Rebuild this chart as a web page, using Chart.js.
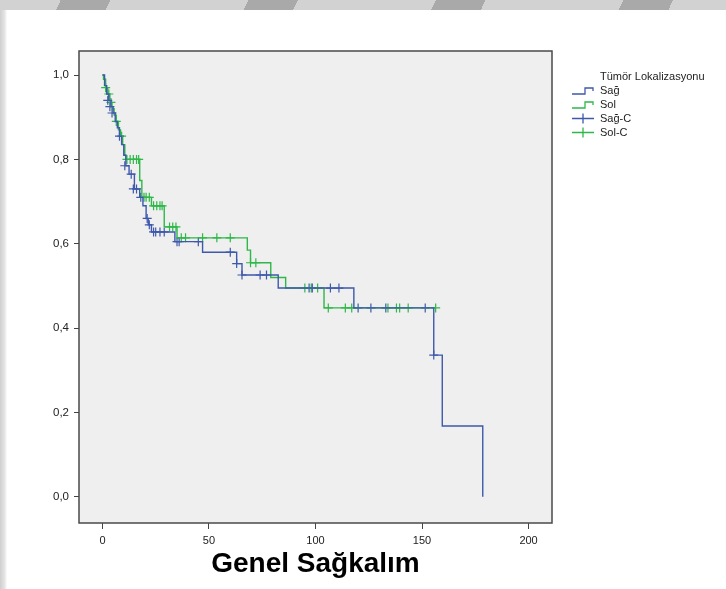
<!DOCTYPE html>
<html>
<head>
<meta charset="utf-8">
<script src="https://cdn.jsdelivr.net/npm/chart.js@4"></script>
<style>
  html, body { margin: 0; padding: 0; background: #fff; }
  body { width: 726px; height: 589px; position: relative; overflow: hidden; font-family: Arial, "Liberation Sans", sans-serif; }
  #topband {
    position: absolute; left: 0; top: 0; width: 726px; height: 10px;
    background: repeating-linear-gradient(115deg, #d2d2d2 0 55px, #a9a9a9 55px 100px, #d2d2d2 100px 170px);
  }
  #leftband {
    position: absolute; left: 0; top: 10px; width: 7px; height: 579px;
    background: linear-gradient(90deg, #cfcfcf, #e6e6e6 70%, #fff);
  }
  #wrap { position: absolute; left: 0; top: 0; width: 726px; height: 589px; }
  #legend { position: absolute; left: 556px; top: 69px; font-size: 11px; color: #222; line-height: 14px; }
  #legend .title { padding-left: 44px; }
  #legend .row { display: flex; align-items: center; height: 14px; }
  #legend svg { width: 40px; height: 13px; margin-right: 4px; }
</style>
</head>
<body>
<div id="topband"></div>
<div id="leftband"></div>
<div id="wrap"><canvas id="km" width="726" height="589"></canvas></div>
<div id="legend">
  <div class="title">Tümör Lokalizasyonu</div>
  <div class="row"><svg viewBox="0 0 40 13"><path d="M16 10 H29 V4 H37 V7" fill="none" stroke="#3e58ac" stroke-width="1.3"/></svg>Sağ</div>
  <div class="row"><svg viewBox="0 0 40 13"><path d="M16 10 H29 V4 H37 V7" fill="none" stroke="#2eb848" stroke-width="1.3"/></svg>Sol</div>
  <div class="row"><svg viewBox="0 0 40 13"><path d="M16 6.5 H38 M27 1.5 V11.5" fill="none" stroke="#3e58ac" stroke-width="1.3"/></svg>Sağ-C</div>
  <div class="row"><svg viewBox="0 0 40 13"><path d="M16 6.5 H38 M27 1.5 V11.5" fill="none" stroke="#2eb848" stroke-width="1.3"/></svg>Sol-C</div>
</div>
<script>
// Sağ: step curve (time, survival)
const sagTime = [0, 1, 2, 3, 4, 5, 6, 7, 8, 9, 10, 11, 12.5, 15, 17.5, 19, 20.5, 21.5, 23, 34, 47, 63, 65.5, 82.5, 118, 155.5, 159.5, 178.5];
const sagSurv = [1.0, 0.975, 0.955, 0.94, 0.925, 0.91, 0.89, 0.875, 0.855, 0.835, 0.81, 0.785, 0.765, 0.73, 0.71, 0.69, 0.66, 0.645, 0.628, 0.605, 0.58, 0.553, 0.526, 0.495, 0.448, 0.336, 0.168, 0.0];
// Sağ: censored
const sagCensTime = [2.5, 3.5, 4.5, 8, 10.5, 13.5, 14.5, 16, 18, 21, 22, 24, 25, 27, 29, 35, 36, 45, 60, 63, 65.5, 74, 77, 97, 98.5, 107, 111, 120, 126, 133, 151.5, 155.5];
const sagCensSurv = [0.94, 0.925, 0.91, 0.855, 0.785, 0.765, 0.73, 0.73, 0.71, 0.66, 0.645, 0.628, 0.628, 0.628, 0.628, 0.605, 0.605, 0.605, 0.58, 0.553, 0.526, 0.526, 0.526, 0.495, 0.495, 0.495, 0.495, 0.448, 0.448, 0.448, 0.448, 0.336];

// Sol: step curve
const solTime = [0, 0.5, 1.5, 2.5, 3.5, 4.5, 5.5, 6.5, 7.5, 8.5, 9.5, 10.5, 11, 17.5, 18.5, 23, 29, 35, 68, 69.5, 79, 86, 104, 156.4];
const solSurv = [1.0, 0.99, 0.97, 0.955, 0.935, 0.92, 0.905, 0.89, 0.87, 0.855, 0.835, 0.81, 0.8, 0.75, 0.71, 0.69, 0.64, 0.614, 0.585, 0.555, 0.52, 0.495, 0.448, 0.448];
// Sol: censored
const solCensTime = [1.5, 3, 4, 6.5, 9, 11.5, 13, 14.5, 16, 17, 19.5, 20.5, 22, 24, 25.5, 27, 28, 31.5, 33, 34.5, 37, 39, 47, 53.7, 60, 69.5, 72, 95, 98, 101, 106, 114, 117, 134, 138, 139.5, 143.5, 156.4];
const solCensSurv = [0.97, 0.955, 0.935, 0.89, 0.855, 0.8, 0.8, 0.8, 0.8, 0.8, 0.71, 0.71, 0.71, 0.69, 0.69, 0.69, 0.69, 0.64, 0.64, 0.64, 0.614, 0.614, 0.614, 0.614, 0.614, 0.555, 0.555, 0.495, 0.495, 0.495, 0.448, 0.448, 0.448, 0.448, 0.448, 0.448, 0.448, 0.448];

const xTicks = [0, 50, 100, 150, 200];
const yTicks = [0, 0.2, 0.4, 0.6, 0.8, 1.0];

const blue = "#3e58ac";
const green = "#2eb848";

const toPts = (xs, ys) => xs.map((x, i) => ({ x: x, y: ys[i] }));

// grey plot area + dark frame
const frame = {
  id: "frame",
  beforeDraw(chart) {
    const { ctx, chartArea: a } = chart;
    ctx.save();
    ctx.fillStyle = "#efefef";
    ctx.fillRect(a.left, a.top, a.right - a.left, a.bottom - a.top);
    ctx.restore();
  },
  afterDraw(chart) {
    const { ctx, chartArea: a } = chart;
    ctx.save();
    ctx.strokeStyle = "#4a4a4a";
    ctx.lineWidth = 1.5;
    ctx.strokeRect(a.left, a.top, a.right - a.left, a.bottom - a.top);
    ctx.restore();
  }
};

new Chart(document.getElementById("km"), {
  type: "line",
  data: {
    datasets: [
      { label: "Sağ", data: toPts(sagTime, sagSurv), stepped: "before", borderColor: blue, borderWidth: 1.4, pointRadius: 0, fill: false },
      { label: "Sol", data: toPts(solTime, solSurv), stepped: "before", borderColor: green, borderWidth: 1.4, pointRadius: 0, fill: false },
      { label: "Sağ-C", data: toPts(sagCensTime, sagCensSurv), showLine: false, pointStyle: "cross", pointRadius: 4.5, borderColor: blue, borderWidth: 1.2 },
      { label: "Sol-C", data: toPts(solCensTime, solCensSurv), showLine: false, pointStyle: "cross", pointRadius: 4.5, borderColor: green, borderWidth: 1.2 }
    ]
  },
  options: {
    responsive: false,
    animation: false,
    layout: { padding: { left: 0, top: 51, right: 174, bottom: 0 } },
    plugins: { legend: { display: false }, tooltip: { enabled: false } },
    scales: {
      x: {
        type: "linear",
        min: -11,
        max: 211,
        afterBuildTicks: (axis) => { axis.ticks = xTicks.map((v) => ({ value: v })); },
        afterFit: (axis) => { axis.height = 66; },
        grid: { drawOnChartArea: false, drawTicks: true, tickLength: 6, color: "#444" },
        border: { display: false },
        ticks: { color: "#222", font: { family: "Arial", size: 11 }, padding: 5, maxRotation: 0 },
        title: { display: true, text: "Genel Sağkalım", color: "#000", font: { family: "Arial", size: 28, weight: "bold" }, padding: { top: 0, bottom: 8 } }
      },
      y: {
        type: "linear",
        min: -0.062,
        max: 1.057,
        afterBuildTicks: (axis) => { axis.ticks = yTicks.map((v) => ({ value: v })); },
        afterFit: (axis) => { axis.width = 79; },
        grid: { drawOnChartArea: false, drawTicks: true, tickLength: 5, color: "#444" },
        border: { display: false },
        ticks: { color: "#222", font: { family: "Arial", size: 11.5 }, padding: 5, callback: (v) => v.toFixed(1).replace(".", ",") }
      }
    }
  },
  plugins: [frame]
});
</script>
</body>
</html>
